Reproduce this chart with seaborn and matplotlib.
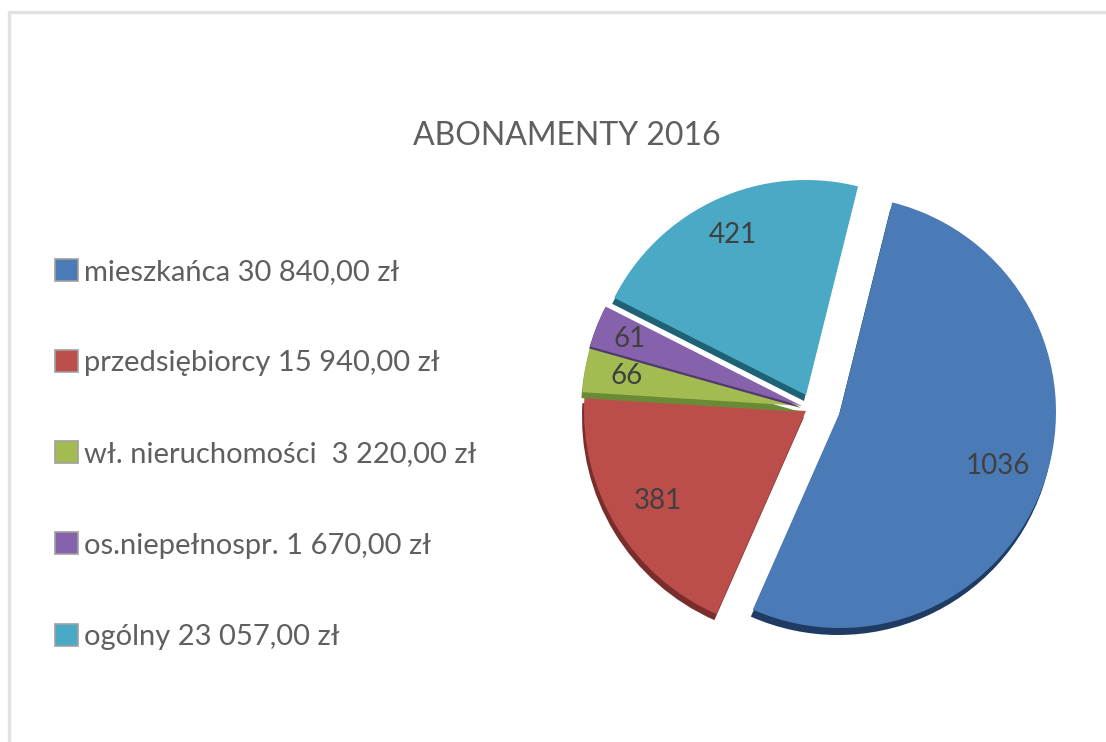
import matplotlib
matplotlib.use("Agg")
import matplotlib.pyplot as plt
from matplotlib.patches import Patch
import seaborn as sns

title = "ABONAMENTY 2016"
counts = [1036, 381, 66, 61, 421]
legend_labels = ["mieszkańca 30 840,00 zł", "przedsiębiorcy 15 940,00 zł",
                 "wł. nieruchomości  3 220,00 zł", "os.niepełnospr. 1 670,00 zł",
                 "ogólny 23 057,00 zł"]
colors = ["#4A7BB7", "#BB4D4A", "#A2BC52", "#8762AC", "#4AA9C5"]
dark = ["#1F3B63", "#7A2E2C", "#6B8A35", "#4F3A6B", "#1F6275"]
centers_px = [(840, 412), (806, 411), (802, 406), (802, 406), (806, 395)]
radii = [216, 222, 220, 220, 215]
label_dist = [0.775, 0.78, 0.81, 0.84, 0.82]
shadow_px = [(-2, 7), (-2, 6), (-1, 6), (-1, 2), (-2, 6)]

W, H = 1106, 742
sns.set_theme(style="white")
plt.rcParams["font.family"] = ["Lato", "DejaVu Sans"]
text_col = "#5f5f5f"

fig = plt.figure(figsize=(W / 100, H / 100), dpi=100, facecolor="white")
ax = fig.add_axes([0, 0, 1, 1])

total = sum(counts)
angle = 76.0
for v, c, d, (cx, cy), r, ld, (sx, sy) in zip(counts, colors, dark, centers_px, radii,
                                              label_dist, shadow_px):
    frac = v / total
    ax.pie([frac], colors=[d], startangle=angle, counterclock=False, normalize=False,
           center=(cx + sx, H - cy - sy), radius=r, wedgeprops=dict(linewidth=0))
    wedges, texts = ax.pie([frac], colors=[c], startangle=angle, counterclock=False,
                           normalize=False, center=(cx, H - cy), radius=r,
                           labels=[str(v)], labeldistance=ld, wedgeprops=dict(linewidth=0),
                           textprops=dict(fontsize=20, color="#404040"))
    for t in texts:
        t.set_ha("center")
        t.set_va("center")
    angle -= frac * 360

ax.set_xlim(0, W)
ax.set_ylim(0, H)
ax.set_aspect("equal")
ax.axis("off")

ax.text(567, H - 136, title, fontsize=23, color=text_col, ha="center", va="center")

handles = [Patch(facecolor=c, edgecolor="#a0a0a0", linewidth=1.2) for c in colors]
leg = ax.legend(handles, legend_labels, loc="upper left", bbox_to_anchor=(55 / W, 1 - 259 / H),
                bbox_transform=fig.transFigure, frameon=False, fontsize=21, labelcolor=text_col,
                handlelength=0.78, handleheight=0.78, handletextpad=0.2,
                labelspacing=2.23, borderpad=0, borderaxespad=0)

ax.plot([9, 9, W], [0, H - 12, H - 12], color="#e2e2e2", lw=2.5, clip_on=False)
fig.savefig("out.png", dpi=100, facecolor="white")
